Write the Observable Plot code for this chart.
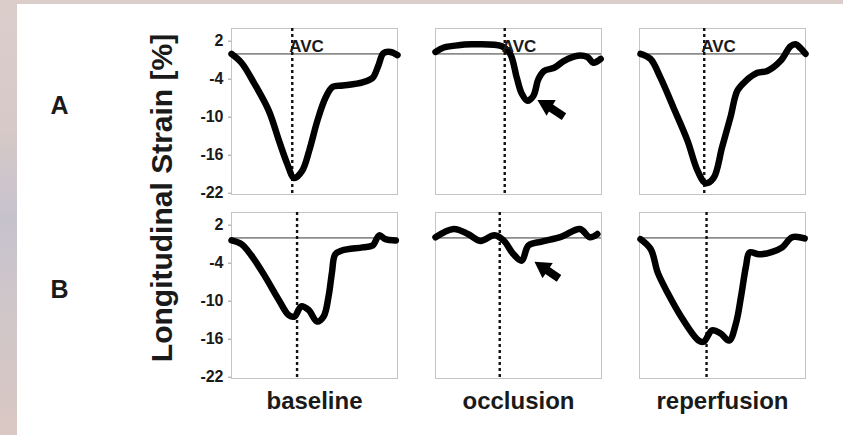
<!DOCTYPE html>
<html><head><meta charset="utf-8">
<script src="https://cdn.jsdelivr.net/npm/d3@7"></script>
<script src="https://cdn.jsdelivr.net/npm/@observablehq/plot@0.6"></script>
<style>
html,body{margin:0;padding:0;}
body{width:843px;height:435px;position:relative;overflow:hidden;
 background:linear-gradient(to bottom,#dacdca 0%,#d6c9c7 30%,#c6c2cd 50%,#cfc6c9 70%,#dac8c3 100%);}
#panel{position:absolute;left:17px;top:4px;width:826px;height:431px;background:#fff;}
#chart{position:absolute;left:0;top:0;}
#overlay{position:absolute;left:0;top:0;pointer-events:none;}
</style></head><body>
<div id="panel"></div>
<div id="chart"></div>
<svg id="overlay" width="843" height="435"></svg>
<script>
// ---- categories / labels ----
const conditions = ["baseline", "occlusion", "reperfusion"];
const rows = ["A", "B"];
const yTicks = [2, -4, -10, -16, -22];
const yTitle = "Longitudinal Strain [%]";
const avcLabel = "AVC";

// ---- strain curves (time in % of the trace, strain in %) ----
const baselineA_t = [0, 6, 14, 22.5, 28.6, 33.5, 37.8, 42.7, 46.9, 51.8, 56.7, 61, 67, 79, 85, 88.4, 91.5, 95.7, 100];
const baselineA_v = [0, -1.4, -4.8, -9, -13.7, -17.3, -19.6, -18.4, -15.2, -10.5, -6.9, -5.2, -5.0, -4.5, -3.8, -1.9, 0.1, 0.3, -0.2];
const occlusionA_t = [0, 5, 12, 22, 40, 45, 49, 52, 55.4, 59, 62, 65.5, 71.5, 77.5, 85.7, 91.5, 95, 99.5];
const occlusionA_v = [0.3, 1.0, 1.3, 1.5, 1.2, 0, -3.8, -6.3, -7.4, -6.6, -4, -2.7, -2.2, -1.1, -0.3, -0.5, -1.4, -0.8];
const reperfusionA_t = [0.6, 6.6, 12.7, 20.5, 28.9, 34.9, 39.8, 44.6, 49.8, 54.8, 59, 63.9, 71, 77, 85, 91, 94, 97, 100];
const reperfusionA_v = [0, -0.8, -3.8, -8.5, -13.7, -18.4, -20.4, -19.6, -14.7, -10, -5.8, -4.3, -3, -2.7, -1.1, 1.2, 1.5, 0.9, 0];
const baselineB_t = [0, 6, 12, 20, 28.5, 34.5, 38, 42, 46.5, 51.5, 55.5, 58.5, 60.5, 62.5, 66.5, 79, 85, 89, 92.7, 99];
const baselineB_v = [-0.4, -1, -2.8, -6, -9.8, -12.2, -12.4, -10.8, -11.4, -13.2, -12.4, -9.2, -5.5, -2.6, -2, -1.5, -1.2, 0.4, -0.2, -0.4];
const occlusionB_t = [0, 11, 19.5, 27, 35.5, 41, 47, 52, 56, 64, 76, 87, 93, 97.5];
const occlusionB_v = [0.1, 1.4, 0.6, -0.5, 0.4, -0.4, -2.6, -3.6, -1.2, -0.6, 0.2, 1.4, 0.1, 0.6];
const reperfusionB_t = [0.6, 6.8, 11, 17, 25, 35.6, 38.7, 43.7, 48.9, 54, 58.1, 61.2, 64.2, 66.3, 72, 80, 86, 92, 99.5];
const reperfusionB_v = [-0.2, -1.8, -5.5, -8.7, -12.4, -16.2, -16.4, -14.6, -15.1, -16.2, -13.5, -9.2, -4.4, -2.3, -2.6, -2.2, -1.5, 0.1, -0.1];

// ---- aortic valve closure times ----
const avcA = [36.6, 41.7, 39];
const avcB = [39.5, 38.7, 40.4];

// ---- arrows in the occlusion panels ----
const arrowRows = ["A", "B"];
const arrowHeadT = [66.9, 64.9];
const arrowHeadV = [-8.1, -4.7];
const arrowTailT = [77.4, 74.4];
const arrowTailV = [-9.9, -6.4];
const arrowAngle = [-60, -56];

// ---- build tables ----
const series = [
  ["A", "baseline", baselineA_t, baselineA_v],
  ["A", "occlusion", occlusionA_t, occlusionA_v],
  ["A", "reperfusion", reperfusionA_t, reperfusionA_v],
  ["B", "baseline", baselineB_t, baselineB_v],
  ["B", "occlusion", occlusionB_t, occlusionB_v],
  ["B", "reperfusion", reperfusionB_t, reperfusionB_v]
];
const curveData = series.flatMap(([row, cond, ts, vs]) => ts.map((t, i) => ({row, cond, t, v: vs[i]})));
const avcData = [
  ...conditions.map((c, i) => ({row: "A", cond: c, t: avcA[i]})),
  ...conditions.map((c, i) => ({row: "B", cond: c, t: avcB[i]}))
];
const arrows = arrowRows.map((r, i) => ({row: r, cond: "occlusion", hx: arrowHeadT[i], hy: arrowHeadV[i], tx: arrowTailT[i], ty: arrowTailV[i], a: arrowAngle[i]}));

const font = "'Liberation Sans', Arial, Helvetica, sans-serif";

const chart = Plot.plot({
  width: 843, height: 435,
  marginLeft: 230, marginRight: 38, marginTop: 27, marginBottom: 56,
  style: {background: "transparent", fontFamily: font, color: "#1a1a1a"},
  x: {domain: [0, 100], axis: null},
  y: {domain: [-22.2, 4]},
  fx: {domain: conditions, paddingInner: 0.188, paddingOuter: 0},
  fy: {domain: rows, paddingInner: 0.097, paddingOuter: 0},
  marks: [
    Plot.frame({stroke: "#c4c4c4"}),
    Plot.ruleY([0], {stroke: "#8c8c8c", strokeWidth: 1.6}),
    Plot.ruleX(avcData, {x: "t", fx: "cond", fy: "row", stroke: "#111", strokeWidth: 2.4, strokeDasharray: "3,3"}),
    Plot.line(curveData, {x: "t", y: "v", fx: "cond", fy: "row", z: null, stroke: "#000", strokeWidth: 6.5,
      curve: "catmull-rom", strokeLinejoin: "round", strokeLinecap: "round"}),
    Plot.text(avcData.filter(d => d.row === "A"), {x: "t", y: () => 0, fx: "cond", fy: "row", text: () => avcLabel,
      textAnchor: "start", lineAnchor: "bottom", dx: -3, dy: -2, fontSize: 17, fontWeight: "bold", fill: "#1a1a1a"}),
    Plot.link(arrows, {x1: "hx", y1: "hy", x2: "tx", y2: "ty", fx: "cond", fy: "row", stroke: "#000", strokeWidth: 8}),
    Plot.dot(arrows, {x: "hx", y: "hy", fx: "cond", fy: "row", symbol: "triangle", rotate: "a", r: 6.8, fill: "#000", stroke: "none"}),
    Plot.axisY(yTicks, {tickSize: 3, tickPadding: 5, tickFormat: d => String(d), fontSize: 16, fontWeight: "bold",
      label: null, stroke: "#999", fill: "#1a1a1a"}),
    Plot.axisFx({anchor: "bottom", tickSize: 0, tickPadding: 13, fontSize: 24, fontWeight: "bold", label: null, fill: "#1a1a1a"}),
    Plot.axisFy({anchor: "left", tickSize: 0, tickPadding: 163, fontSize: 25, fontWeight: "bold", label: null, dy: -6, fill: "#1a1a1a"})
  ]
});
document.getElementById("chart").append(chart);

// rotated y title spanning both rows
const ov = d3.select("#overlay");
ov.append("text")
  .attr("transform", "translate(161,198) rotate(-90)")
  .attr("text-anchor", "middle")
  .attr("dominant-baseline", "central")
  .attr("font-family", font)
  .attr("font-size", 30)
  .attr("font-weight", "bold")
  .attr("fill", "#1a1a1a")
  .text(yTitle);
</script>
</body></html>
